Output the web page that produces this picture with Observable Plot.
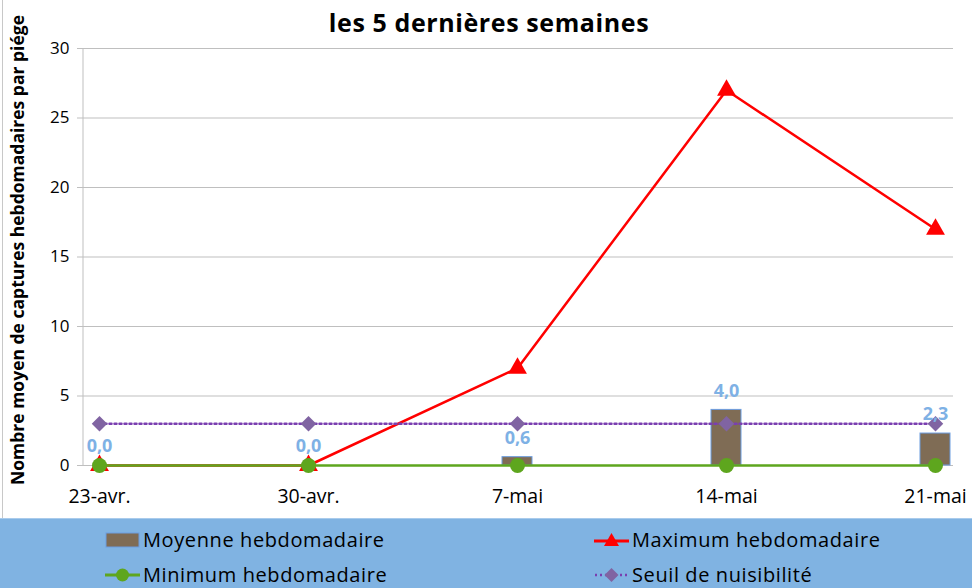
<!DOCTYPE html>
<html>
<head>
<meta charset="utf-8">
<script src="https://cdn.jsdelivr.net/npm/d3@7"></script>
<script src="https://cdn.jsdelivr.net/npm/@observablehq/plot@0.6"></script>
<style>
  html, body { margin: 0; padding: 0; background: #fff; }
  body { width: 972px; height: 588px; overflow: hidden; position: relative; font-family: "Open Sans", sans-serif; }
  #title { position: absolute; z-index: 2; left: 0; top: 0; width: 978px; text-align: center; font-weight: bold; font-size: 25px; letter-spacing: 0.6px; line-height: 44px; color: #000; }
  #chart { position: absolute; z-index: 1; left: 0; top: 0; }
  #legend { position: absolute; z-index: 3; left: 0; top: 518px; width: 972px; height: 70px; background: #80b3e2; border-top: 1px solid #a9cbec; }
  .item { position: absolute; display: flex; align-items: center; font-size: 20px; letter-spacing: 0.6px; color: #000; height: 26px; line-height: 24px; }
  .item svg { margin-right: 3px; }
  #edge { position: absolute; z-index: 0; left: 2px; top: 0; width: 1px; height: 518px; background: #c8c8c8; }
</style>
</head>
<body>
<div id="edge"></div>
<div id="chart"></div>
<div id="title">les 5 dernières semaines</div>
<div id="legend">
  <div class="item" style="left:105px; top:8px;">
    <svg width="35" height="16"><rect x="1" y="1" width="33" height="14" fill="#7f6c55" stroke="#6d9de0" stroke-width="1"/></svg>Moyenne hebdomadaire
  </div>
  <div class="item" style="left:594px; top:8px;">
    <svg width="35" height="16"><line x1="0" y1="9" x2="35" y2="9" stroke="#ff0000" stroke-width="3"/><path d="M17.5,1 L25,14 L10,14 Z" fill="#ff0000"/></svg>Maximum hebdomadaire
  </div>
  <div class="item" style="left:105px; top:43px;">
    <svg width="35" height="16"><line x1="0" y1="8" x2="35" y2="8" stroke="#5ea61e" stroke-width="3"/><circle cx="17.5" cy="8" r="6.5" fill="#5ea61e"/></svg>Minimum hebdomadaire
  </div>
  <div class="item" style="left:594px; top:43px;">
    <svg width="35" height="16"><line x1="1" y1="8" x2="35" y2="8" stroke="#7a3fb0" stroke-width="2.5" stroke-dasharray="2 3"/><path d="M17.5,1 L24.5,8 L17.5,15 L10.5,8 Z" fill="#8064a2"/></svg>Seuil de nuisibilité
  </div>
</div>
<script>
const weeks = ["23-avr.", "30-avr.", "7-mai", "14-mai", "21-mai"];
const moyenne = [0.0, 0.0, 0.6, 4.0, 2.3];
const maximum = [0, 0, 7, 27, 17];
const minimum = [0, 0, 0, 0, 0];
const seuil = [3, 3, 3, 3, 3];
const yTicks = [0, 5, 10, 15, 20, 25, 30];

const rows = weeks.map((w, i) => ({week: w, moy: moyenne[i], max: maximum[i], min: minimum[i], seuil: seuil[i]}));
const fmt = v => v.toFixed(1).replace(".", ",");

const chart = Plot.plot({
  width: 972,
  height: 518,
  marginTop: 48,
  marginBottom: 53,
  marginLeft: 83,
  marginRight: 19,
  style: {fontFamily: "Open Sans, sans-serif", background: "transparent"},
  x: {type: "band", domain: weeks, range: [82, 952], paddingInner: 6/7, paddingOuter: 0, label: null},
  y: {domain: [0, 30], label: null},
  marks: [
    Plot.ruleY(yTicks, {stroke: "#bfbfbf", strokeWidth: 1}),
    Plot.axisY({ticks: yTicks, tickSize: 6, tickPadding: 8, fontSize: 17, stroke: "#bfbfbf", color: "#000", label: null}),
    Plot.axisX({tickSize: 0, tickPadding: 24, fontSize: 19.5, color: "#000", label: null}),
    Plot.text(["Nombre moyen de captures hebdomadaires par piége"], {frameAnchor: "left", textAnchor: "middle", rotate: -90, dx: -65, dy: -7, fontSize: 17.5, fontWeight: "bold", fill: "#000"}),
    Plot.rectY(rows, {x: "week", y: "moy", fill: "#7f6c55", stroke: "#6d9de0", strokeWidth: 1}),
    Plot.line(rows, {x: "week", y: "max", stroke: "#ff0000", strokeWidth: 2.5}),
    Plot.dot(rows, {x: "week", y: "max", symbol: "triangle", r: 7, fill: "#ff0000"}),
    Plot.line(rows, {x: "week", y: "min", stroke: "#5ea61e", strokeWidth: 2.5}),
    Plot.dot(rows, {x: "week", y: "min", symbol: "circle", r: 7.5, fill: "#5ea61e"}),
    Plot.line(rows, {x: "week", y: "seuil", stroke: "#7a3fb0", strokeWidth: 2.5, strokeDasharray: "2 3"}),
    Plot.dot(rows, {x: "week", y: "seuil", symbol: "diamond2", r: 7, fill: "#8064a2", stroke: "none"}),
    Plot.text(rows, {x: "week", y: "moy", text: d => fmt(d.moy), dy: -19, fontSize: 18, fontWeight: "bold", fill: "#7eb1e5"})
  ]
});
d3.select(chart).append("line")
  .attr("x1", 83).attr("x2", 83).attr("y1", 48).attr("y2", 465)
  .attr("stroke", "#bfbfbf");
document.getElementById("chart").appendChild(chart);
</script>
</body>
</html>
